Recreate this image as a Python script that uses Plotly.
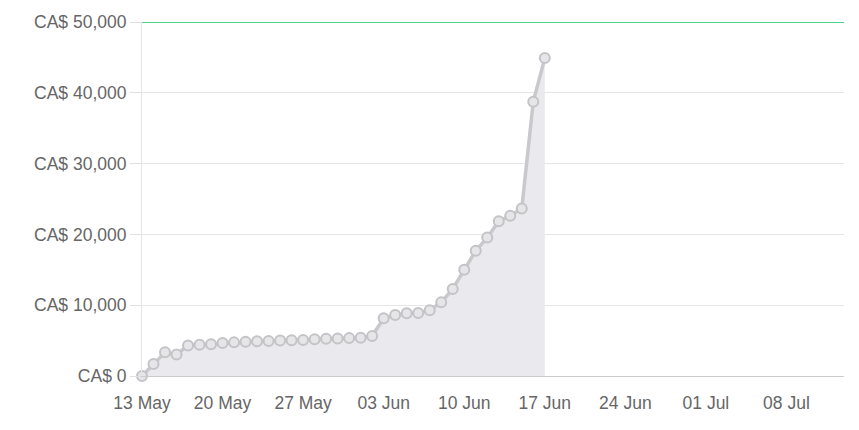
import plotly.graph_objects as go
import pandas as pd

dates = pd.date_range("2024-05-13", "2024-06-17", freq="D")
values = [0, 1700, 3350, 3050, 4300, 4400, 4500, 4650, 4750, 4850, 4900, 4950,
          5000, 5050, 5100, 5200, 5250, 5300, 5350, 5400, 5650,
          8150, 8600, 8850, 8900, 9300, 10400, 12300, 15000, 17700, 19550,
          21850, 22650, 23650, 38750, 44900]
goal = 50000
tick_vals = [0, 10000, 20000, 30000, 40000, 50000]
tick_text = ["CA$ 0", "CA$ 10,000", "CA$ 20,000", "CA$ 30,000", "CA$ 40,000", "CA$ 50,000"]
x_ticks = pd.date_range("2024-05-13", "2024-07-08", freq="7D")
x_range = ["2024-05-13", "2024-07-13"]

fig = go.Figure()
fig.add_trace(go.Scatter(
    x=dates, y=values, mode="lines+markers", fill="tozeroy",
    fillcolor="rgba(234,234,238,1)",
    line=dict(color="#c9c9cd", width=3.5),
    marker=dict(size=10, color="#e6e6e9", line=dict(color="#c4c4c8", width=2)),
    cliponaxis=False, hoverinfo="x+y",
))
fig.add_trace(go.Scatter(
    x=x_range, y=[goal, goal], mode="lines",
    line=dict(color="#4fd38a", width=2), cliponaxis=False, hoverinfo="skip",
))
fig.update_layout(
    width=851, height=422, showlegend=False,
    margin=dict(l=134, r=15, t=14, b=54, autoexpand=False),
    plot_bgcolor="white", paper_bgcolor="white",
    font=dict(family="Liberation Sans, Arial, sans-serif", size=17.5, color="#666666"),
    xaxis=dict(range=x_range, tickvals=x_ticks, ticktext=[d.strftime("%d %b") for d in x_ticks],
               showgrid=False, showline=True, linecolor="#cccccc", linewidth=1,
               ticks="outside", ticklen=11, tickcolor="rgba(0,0,0,0)", zeroline=False,
               automargin=False),
    yaxis=dict(range=[0, goal], tickvals=tick_vals, ticktext=tick_text,
               showgrid=True, gridcolor="#e6e6e6", gridwidth=1,
               showline=True, linecolor="#e6e6e6", linewidth=1,
               ticks="outside", ticklen=11, tickcolor="#e0e0e0", zeroline=False,
               automargin=False),
)
fig.write_html("out.html")
